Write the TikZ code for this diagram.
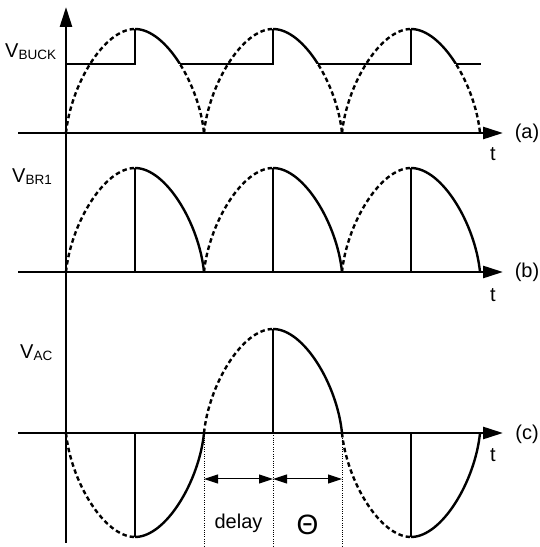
\documentclass[tikz,border=0pt]{standalone}
\usepackage{fontspec}
\setmainfont{Liberation Sans}
\usetikzlibrary{arrows.meta}
\newcommand\archup[4]{\begin{scope}[shift={(#2,#3)},yscale=#4]\draw[#1] (0,0) .. controls (4.8,48) and (38,104) .. (69,104);\end{scope}}
\newcommand\archdn[4]{\begin{scope}[shift={(#2,#3)},yscale=#4]\draw[#1] (0,104) .. controls (31,104) and (64.2,48) .. (69,0);\end{scope}}
\tikzset{
  axisline/.style={line width=2.6pt,-{Triangle[length=20pt,width=12pt]}},
  sol/.style={line width=2.4pt},
  dsh/.style={line width=2.4pt,dash pattern=on 4.5pt off 3pt},
  dotl/.style={line width=0.9pt,dash pattern=on 1pt off 1.3pt},
  dimarrow/.style={line width=1pt,{Triangle[length=14pt,width=9pt]}-{Triangle[length=14pt,width=9pt]}},
  lbl/.style={inner sep=0pt,font=\fontsize{20}{22}\selectfont},
}
\newcommand\sub[1]{\raisebox{-1.5pt}{\fontsize{13.5}{14}\selectfont #1}}
\begin{document}
\begin{tikzpicture}[x=1pt,y=1pt]
\useasboundingbox (0,0) rectangle (540,547);
% axes
\coordinate (vb) at (66,4);
\coordinate (vt) at (66,540);
\coordinate (a0) at (18,414);
\coordinate (a1) at (503,414);
\coordinate (b0) at (18,275);
\coordinate (b1) at (503,275);
\coordinate (c0) at (18,114);
\coordinate (c1) at (503,114);
\draw[axisline] (vb) -- (vt);
\draw[axisline] (a0) -- (a1);
\draw[axisline] (b0) -- (b1);
\draw[axisline] (c0) -- (c1);
% labels
\node[lbl,anchor=base west] (lbuck) at (5,489) {V\sub{BUCK}};
\node[lbl,anchor=base west] (lbr) at (12,364) {V\sub{BR1}};
\node[lbl,anchor=base west] (lac) at (20,188) {V\sub{AC}};
\node[lbl] (la) at (527,414) {(a)};
\node[lbl] (lb) at (527,275) {(b)};
\node[lbl] (lc) at (527,113) {(c)};
\node[lbl] (ta) at (493,393) {t};
\node[lbl] (tb) at (493,252) {t};
\node[lbl] (tc) at (493,92) {t};
% (a)
\foreach \z in {66,204,342} {\archup{dsh}{\z}{414}{1}}
\begin{scope}
  \clip (0,483) rectangle (540,547);
  \foreach \p in {135,273,411} {\archdn{sol}{\p}{414}{1}}
\end{scope}
\begin{scope}
  \clip (0,0) rectangle (540,483);
  \foreach \p in {135,273,411} {\archdn{dsh}{\p}{414}{1}}
\end{scope}
\draw[sol] (66,483) -- (135,483) -- (135,518);
\draw[sol] (179.6,483) -- (273,483) -- (273,518);
\draw[sol] (317.6,483) -- (411,483) -- (411,518);
\draw[sol] (455.6,483) -- (481,483);
% (b)
\foreach \z in {66,204,342} {\archup{dsh}{\z}{275}{1}}
\foreach \p in {135,273,411} {\archdn{sol}{\p}{275}{1}
  \draw[sol] (\p,275) -- (\p,379);}
% (c)
\archup{dsh}{66}{114}{-1}
\archdn{sol}{135}{114}{-1}
\draw[sol] (135,114) -- (135,10);
\archup{dsh}{204}{114}{1}
\archdn{sol}{273}{114}{1}
\draw[sol] (273,114) -- (273,218);
\archup{dsh}{342}{114}{-1}
\archdn{sol}{411}{114}{-1}
\draw[sol] (411,114) -- (411,10);
% delay / theta
\coordinate (d1t) at (204,114);
\coordinate (d1b) at (204,0);
\coordinate (d2t) at (273,114);
\coordinate (d2b) at (273,0);
\coordinate (d3t) at (342,114);
\coordinate (d3b) at (342,0);
\draw[dotl] (d1t) -- (d1b);
\draw[dotl] (d2t) -- (d2b);
\draw[dotl] (d3t) -- (d3b);
\coordinate (m1) at (204,68);
\coordinate (m2) at (273,68);
\coordinate (m3) at (342,68);
\draw[dimarrow] (m1) -- (m2);
\draw[dimarrow] (m2) -- (m3);
\node[lbl] (ldelay) at (238.5,24) {delay};
\node[lbl,font=\fontsize{28}{29}\selectfont] (lth) at (307.5,22) {Θ};
\end{tikzpicture}
\end{document}
